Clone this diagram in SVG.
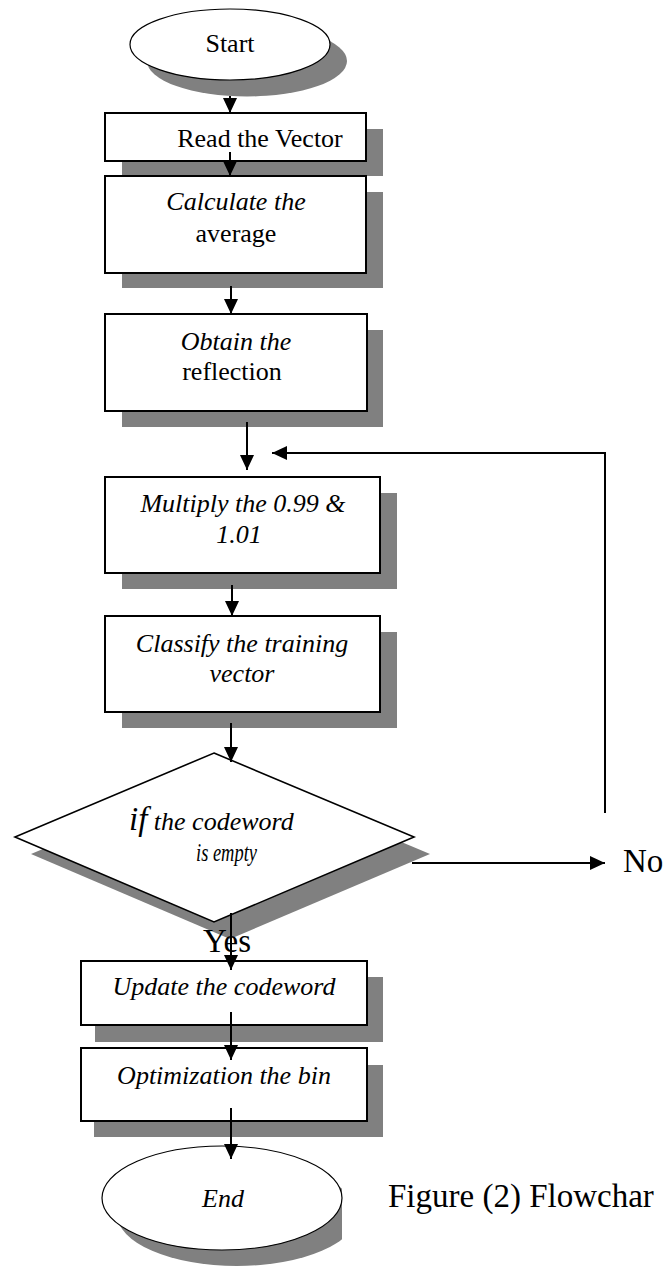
<svg xmlns="http://www.w3.org/2000/svg" width="663" height="1272" viewBox="0 0 663 1272">
<style>
.bg{fill:#ffffff}
.shadow{fill:#808080;stroke:none}
.box{fill:#ffffff;stroke:#000000;stroke-width:2}
.oval{fill:#ffffff;stroke:#000000;stroke-width:1.2}
.dia{fill:#ffffff;stroke:#000000;stroke-width:1.6}
.t{font-family:"Liberation Serif","Times New Roman",serif;font-size:26px;fill:#000000}
.i{font-style:italic}
.c{text-anchor:middle}
.big{font-size:33px}
.conn{stroke:#000000;stroke-width:2;fill:none}
</style>
<defs>
<marker id="ah" markerUnits="userSpaceOnUse" markerWidth="15" markerHeight="14" refX="15" refY="7" orient="auto">
<path d="M0,0 L15,7 L0,14 z" fill="#000000"/>
</marker>
<clipPath id="endclip"><rect x="0" y="1100" width="342" height="172"/></clipPath>
</defs>
<rect class="bg" x="0" y="0" width="663" height="1272"/>

<g id="start">
<ellipse class="shadow" cx="247" cy="61" rx="100" ry="35.5"/>
<ellipse class="oval" cx="230" cy="44.5" rx="100" ry="35.5"/>
<text class="t c" x="230" y="52">Start</text>
</g>

<g id="read">
<rect class="shadow" x="122" y="129" width="261" height="47"/>
<rect class="box" x="105" y="113" width="261" height="48"/>
<text class="t c" x="260" y="147">Read the Vector</text>
</g>

<g id="calc">
<rect class="shadow" x="122" y="192" width="261" height="96"/>
<rect class="box" x="105" y="176" width="261" height="97"/>
<text class="t c i" x="236" y="210">Calculate the</text>
<text class="t c" x="236" y="242">average</text>
</g>

<g id="obtain">
<rect class="shadow" x="122" y="330" width="261" height="97"/>
<rect class="box" x="105" y="314" width="262" height="97"/>
<text class="t c i" x="236" y="350">Obtain the</text>
<text class="t c" x="232" y="380">reflection</text>
</g>

<g id="multiply">
<rect class="shadow" x="122" y="493" width="275" height="96"/>
<rect class="box" x="105" y="477" width="275" height="96"/>
<text class="t c i" x="243" y="512">Multiply the 0.99 &amp;</text>
<text class="t c i" x="239" y="543">1.01</text>
</g>

<g id="classify">
<rect class="shadow" x="122" y="632" width="275" height="96"/>
<rect class="box" x="105" y="616" width="275" height="96"/>
<text class="t c i" x="242" y="652">Classify the training</text>
<text class="t c i" x="242" y="682">vector</text>
</g>

<g id="decision">
<polygon class="shadow" points="230,770 430,854 230,939 31,854"/>
<polygon class="dia" points="214,753 414,837 214,922 15,837"/>
<text class="t i" x="129" y="830"><tspan style="font-size:33px">if</tspan><tspan style="font-size:26px"> the codeword</tspan></text>
<text class="t i" x="196" y="861" textLength="61" lengthAdjust="spacingAndGlyphs">is empty</text>
</g>

<g id="update">
<rect class="shadow" x="95" y="977" width="288" height="65"/>
<rect class="box" x="81" y="961" width="286" height="64"/>
<text class="t c i" x="224" y="995">Update the codeword</text>
</g>

<g id="optimize">
<rect class="shadow" x="94" y="1065" width="289" height="72"/>
<rect class="box" x="81" y="1048" width="286" height="73"/>
<text class="t c i" x="224" y="1084">Optimization the bin</text>
</g>

<g id="end">
<ellipse class="shadow" cx="237" cy="1214" rx="120" ry="52" clip-path="url(#endclip)"/>
<ellipse class="oval" cx="222" cy="1198" rx="120" ry="52"/>
<text class="t c i" x="223" y="1207">End</text>
</g>

<g id="connectors">
<line class="conn" x1="230" y1="96" x2="230" y2="113" marker-end="url(#ah)"/>
<line class="conn" x1="230" y1="152" x2="230" y2="176" marker-end="url(#ah)"/>
<line class="conn" x1="231" y1="286" x2="231" y2="314" marker-end="url(#ah)"/>
<line class="conn" x1="247" y1="422" x2="247" y2="470" marker-end="url(#ah)"/>
<polyline class="conn" points="605,813 605,453 272,453" marker-end="url(#ah)"/>
<line class="conn" x1="232" y1="585" x2="232" y2="616" marker-end="url(#ah)"/>
<line class="conn" x1="231" y1="723" x2="231" y2="762" marker-end="url(#ah)"/>
<line class="conn" x1="412" y1="863" x2="605" y2="863" marker-end="url(#ah)"/>
<line class="conn" x1="231" y1="913" x2="231" y2="970" marker-end="url(#ah)"/>
<line class="conn" x1="231" y1="1012" x2="231" y2="1060" marker-end="url(#ah)"/>
<line class="conn" x1="231" y1="1108" x2="231" y2="1159" marker-end="url(#ah)"/>
</g>

<g id="labels">
<text class="t big" x="623" y="872">No</text>
<text class="t big" x="203" y="952">Yes</text>
<text class="t big" x="388" y="1207">Figure (2) Flowchar</text>
</g>
</svg>
